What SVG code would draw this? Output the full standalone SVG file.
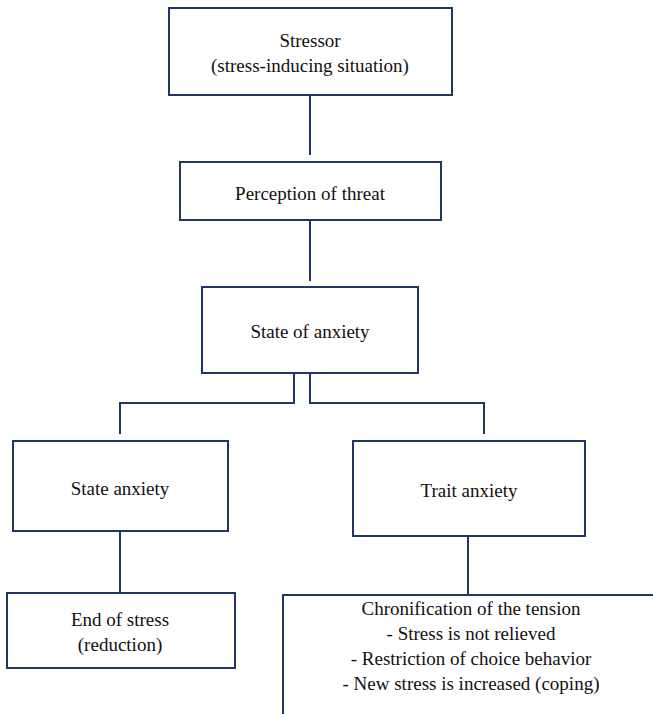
<svg xmlns="http://www.w3.org/2000/svg" width="653" height="714" viewBox="0 0 653 714">
<style>
.box{fill:#fff;stroke:#1f3864;stroke-width:2}
.ln{fill:none;stroke:#1f3864;stroke-width:2}
.t{font-family:'Liberation Serif','Times New Roman',Times,'DejaVu Serif',serif;font-size:19px;fill:#111;text-anchor:middle}
</style>
<rect width="653" height="714" fill="#fff"/>
<g id="connectors">
<line class="ln" x1="310" y1="95" x2="310" y2="155"/>
<line class="ln" x1="310" y1="220" x2="310" y2="281"/>
<polyline class="ln" points="294,373 294,403 120,403 120,434"/>
<polyline class="ln" points="310,373 310,403 484,403 484,434"/>
<line class="ln" x1="120" y1="531" x2="120" y2="593"/>
<line class="ln" x1="468" y1="536" x2="468" y2="595"/>
</g>
<g id="stressor">
<rect class="box" x="169" y="8" width="283" height="87"/>
<text class="t" x="310" y="47">Stressor</text>
<text class="t" x="310" y="72">(stress-inducing situation)</text>
</g>
<g id="perception">
<rect class="box" x="180" y="162" width="261" height="58"/>
<text class="t" x="310" y="200">Perception of threat</text>
</g>
<g id="state-of-anxiety">
<rect class="box" x="202" y="287" width="216" height="86"/>
<text class="t" x="310" y="338">State of anxiety</text>
</g>
<g id="state-anxiety">
<rect class="box" x="13" y="441" width="215" height="90"/>
<text class="t" x="120" y="495">State anxiety</text>
</g>
<g id="trait-anxiety">
<rect class="box" x="353" y="441" width="232" height="95"/>
<text class="t" x="469" y="497">Trait anxiety</text>
</g>
<g id="end-of-stress">
<rect class="box" x="7" y="593" width="228" height="75"/>
<text class="t" x="120" y="626">End of stress</text>
<text class="t" x="120" y="651">(reduction)</text>
</g>
<g id="chronification">
<path class="ln" d="M283,720 L283,595 L660,595"/>
<text class="t" x="471" y="615">Chronification of the tension</text>
<text class="t" x="471" y="640">- Stress is not relieved</text>
<text class="t" x="471" y="665">- Restriction of choice behavior</text>
<text class="t" x="471" y="690">- New stress is increased (coping)</text>
</g>
</svg>
